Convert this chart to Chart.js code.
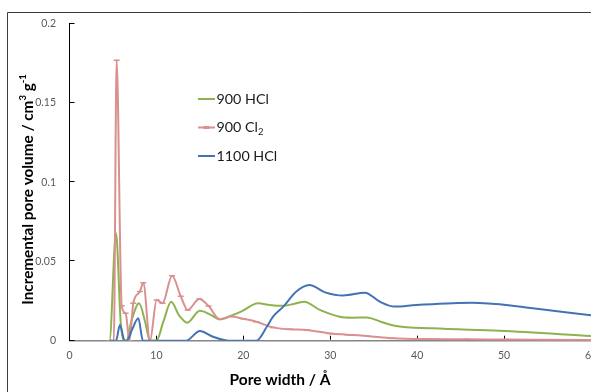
<!DOCTYPE html>
<html>
<head>
<meta charset="utf-8">
<script src="https://cdn.jsdelivr.net/npm/chart.js@4.4.0/dist/chart.umd.min.js"></script>
<style>
  html, body { margin: 0; padding: 0; background: #fff; overflow: hidden; }
  canvas { display: block; }
</style>
</head>
<body>
<canvas id="psd" width="591" height="392"></canvas>
<script>
// Pore size distributions (incremental pore volume, cm3/g, vs pore width, Å)
const seriesNames = ['900 HCl', '900 Cl₂', '1100 HCl'];

const hcl900X = [4.5, 4.6, 5.35, 5.9, 6.25, 6.55, 7.15, 8.0, 8.7, 9.26, 10.0, 10.8, 11.7, 12.6, 13.55, 15.0, 16.2, 17.3, 18.6, 19.8, 21.7, 23.0, 24.5, 25.8, 27.0, 28.8, 31.1, 32.6, 34.2, 35.8, 37.4, 41.8, 49.5, 60];
const hcl900Y = [0, 0, 0.0678, 0.011, 0, 0, 0.013, 0.0236, 0.012, 0, 0, 0.012, 0.0245, 0.016, 0.0114, 0.0189, 0.0165, 0.0135, 0.0158, 0.0185, 0.0236, 0.0226, 0.022, 0.0232, 0.0246, 0.0194, 0.0151, 0.0145, 0.0147, 0.012, 0.0095, 0.0078, 0.0063, 0.003];

const cl900X = [4.6, 5.1, 5.42, 6.0, 6.46, 6.9, 7.34, 8.1, 8.49, 9.26, 10.03, 10.7, 11.8, 12.8, 13.6, 14.93, 16.0, 17.3, 18.6, 20.0, 21.5, 23.4, 25.35, 27.3, 30.0, 32.0, 34.2, 37.2, 40.5, 45.7, 50.3, 54.5, 60];
const cl900Y = [0, 0, 0.177, 0.022, 0.0173, 0, 0.0236, 0.031, 0.0365, 0, 0.0257, 0.0236, 0.041, 0.028, 0.0194, 0.0263, 0.0219, 0.0135, 0.0152, 0.0138, 0.012, 0.0084, 0.0072, 0.0068, 0.0045, 0.0038, 0.003, 0.0015, 0.001, 0.0009, 0.0007, 0.0006, 0.0005];

const hcl1100X = [4.6, 5.35, 5.8, 6.35, 6.6, 7.2, 7.92, 8.45, 13.4, 15.0, 16.5, 18.4, 21.5, 22.7, 23.4, 24.6, 26.1, 27.6, 29.4, 31.5, 34.0, 35.7, 37.4, 39.9, 46.4, 49.5, 53.3, 60];
const hcl1100Y = [0, 0, 0.0099, 0, 0, 0.007, 0.0141, 0, 0, 0.0061, 0.0025, 0, 0, 0.0088, 0.015, 0.0215, 0.031, 0.0351, 0.0305, 0.0285, 0.0303, 0.0246, 0.0215, 0.0225, 0.024, 0.023, 0.0204, 0.016];

const xTicks = [0, 10, 20, 30, 40, 50, 60];
const yTicks = [0, 0.05, 0.1, 0.15, 0.2];
const yTickLabels = ['0', '0.05', '0.1', '0.15', '0.2'];

const colors = ['#8DB24E', '#D9908F', '#4373B5'];
const FONT = 'Lato, "Open Sans", sans-serif';

function toPoints(xs, ys) {
  return xs.map((x, i) => ({ x: x, y: ys[i] }));
}

const noPadding = () => ({ left: 0, top: 0, right: 0, bottom: 0 });

// Outer frame, inner tick marks, axis titles and the legend
const decorations = {
  id: 'decorations',
  beforeDraw(chart) {
    const ctx = chart.ctx;
    ctx.save();
    ctx.fillStyle = '#fff';
    ctx.fillRect(0, 0, chart.width, chart.height);
    ctx.strokeStyle = '#3c3c3c';
    ctx.lineWidth = 1;
    ctx.beginPath();
    ctx.moveTo(7.5, chart.height);
    ctx.lineTo(7.5, 12.5);
    ctx.lineTo(chart.width, 12.5);
    ctx.stroke();
    ctx.restore();
  },
  beforeDatasetsDraw(chart) {
    const { ctx, scales: { x, y }, chartArea: a } = chart;
    ctx.save();
    ctx.strokeStyle = '#000';
    ctx.lineWidth = 1;
    ctx.beginPath();
    yTicks.forEach(v => {
      const py = Math.round(y.getPixelForValue(v)) - 0.5;
      ctx.moveTo(a.left, py);
      ctx.lineTo(a.left + 5, py);
    });
    xTicks.slice(1).forEach(v => {
      const px = Math.round(x.getPixelForValue(v)) + 0.5;
      ctx.moveTo(px, a.bottom - 1);
      ctx.lineTo(px, a.bottom - 5);
    });
    ctx.stroke();
    ctx.restore();
  },
  afterDraw(chart) {
    const ctx = chart.ctx;
    ctx.save();
    ctx.fillStyle = '#000';

    // y axis title with superscripts
    const main = 'bold 15.3px ' + FONT;
    const sup = 'bold 9.5px ' + FONT;
    const parts = [
      ['Incremental pore volume / cm', main, 0],
      ['3', sup, -5.5],
      [' g', main, 0],
      ['-1', sup, -5.5]
    ];
    let total = 0;
    parts.forEach(p => { ctx.font = p[1]; total += ctx.measureText(p[0]).width; });
    ctx.translate(28, 189.5);
    ctx.rotate(-Math.PI / 2);
    ctx.textBaseline = 'middle';
    ctx.textAlign = 'left';
    let cx = -total / 2;
    parts.forEach(p => {
      ctx.font = p[1];
      ctx.fillText(p[0], cx, p[2]);
      cx += ctx.measureText(p[0]).width;
    });
    ctx.setTransform(1, 0, 0, 1, 0, 0);

    // x axis title
    ctx.font = 'bold 15.5px ' + FONT;
    ctx.textAlign = 'center';
    ctx.textBaseline = 'middle';
    ctx.fillText('Pore width / Å', 280, 380);

    // legend
    const subMap = { '₀': '0', '₁': '1', '₂': '2', '₃': '3' };
    chart.data.datasets.forEach((ds, i) => {
      const yy = 99 + i * 28.5;
      ctx.strokeStyle = ds.borderColor;
      ctx.lineWidth = 2;
      ctx.beginPath();
      ctx.moveTo(198, yy);
      ctx.lineTo(215, yy);
      ctx.stroke();
      if (ds.pointStyle === 'line') {
        ctx.lineWidth = 3;
        ctx.beginPath();
        ctx.moveTo(203.5, yy);
        ctx.lineTo(209.5, yy);
        ctx.stroke();
      }
      const label = ds.label;
      let tx = 216.5;
      ctx.textAlign = 'left';
      ctx.fillStyle = '#1a1a1a';
      for (const ch of label) {
        if (subMap[ch]) {
          ctx.font = '9.5px ' + FONT;
          ctx.fillText(subMap[ch], tx, yy + 4);
          tx += ctx.measureText(subMap[ch]).width;
        } else {
          ctx.font = '14.3px ' + FONT;
          ctx.fillText(ch, tx, yy);
          tx += ctx.measureText(ch).width;
        }
      }
    });
    ctx.restore();
  }
};

new Chart(document.getElementById('psd'), {
  type: 'line',
  data: {
    datasets: [
      {
        label: seriesNames[0],
        data: toPoints(hcl900X, hcl900Y),
        borderColor: colors[0],
        backgroundColor: colors[0],
        order: 3,
        pointRadius: 0
      },
      {
        label: seriesNames[1],
        data: toPoints(cl900X, cl900Y),
        borderColor: colors[1],
        backgroundColor: colors[1],
        order: 2,
        pointStyle: 'line',
        pointRadius: 3,
        pointBorderWidth: 1.5,
        pointBorderColor: colors[1]
      },
      {
        label: seriesNames[2],
        data: toPoints(hcl1100X, hcl1100Y),
        borderColor: colors[2],
        backgroundColor: colors[2],
        order: 1,
        pointRadius: 0
      }
    ]
  },
  options: {
    responsive: false,
    animation: false,
    devicePixelRatio: 1,
    events: [],
    layout: { autoPadding: false, padding: { top: 23.7, left: 0, right: 0, bottom: 0 } },
    elements: {
      line: { borderWidth: 2, cubicInterpolationMode: 'monotone', fill: false },
      point: { hoverRadius: 0 }
    },
    plugins: {
      legend: { display: false },
      tooltip: { enabled: false }
    },
    scales: {
      x: {
        type: 'linear',
        min: 0,
        max: 60,
        afterBuildTicks: s => { s.ticks = xTicks.map(v => ({ value: v })); },
        afterFit: s => {
          s.height = 51.3;
          s.paddingLeft = 0; s.paddingRight = 0; s.paddingTop = 0; s.paddingBottom = 0;
          s.getPadding = noPadding;
        },
        ticks: {
          padding: 9,
          maxRotation: 0,
          autoSkip: false,
          color: '#595959',
          font: { family: FONT, size: 10.5 },
          callback: v => String(v)
        },
        grid: { display: false, drawTicks: false },
        border: { display: true, color: '#858585', width: 1.5 }
      },
      y: {
        type: 'linear',
        min: 0,
        max: 0.2,
        afterBuildTicks: s => { s.ticks = yTicks.map(v => ({ value: v })); },
        afterFit: s => {
          s.width = 69.5;
          s.paddingLeft = 0; s.paddingRight = 0; s.paddingTop = 0; s.paddingBottom = 0;
          s.getPadding = noPadding;
        },
        ticks: {
          padding: 13.5,
          color: '#595959',
          font: { family: FONT, size: 10.5 },
          callback: (v, i) => yTickLabels[i]
        },
        grid: { display: false, drawTicks: false },
        border: { display: true, color: '#000', width: 1 }
      }
    }
  },
  plugins: [decorations]
});
</script>
</body>
</html>
